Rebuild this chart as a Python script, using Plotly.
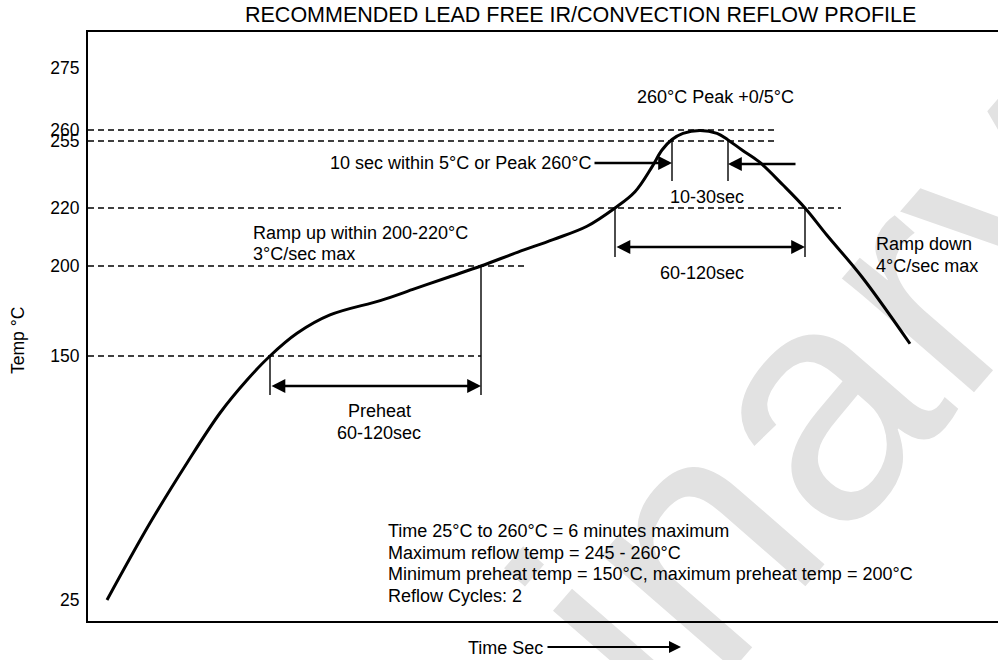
import numpy as np
import plotly.graph_objects as go

# ---------------- data ----------------
# schematic (non-linear) temperature scale of the source drawing: degC -> axis position
scale_temp = [25, 150, 200, 220, 255, 260, 275]
scale_pos = [21, 265, 355, 413, 480, 491, 553]
tick_temps = [25, 150, 200, 220, 255, 260, 275]
tick_labels = ["25", "150", "200", "220", "255", "260", "275"]

# reflow profile (schematic time units, degC)
curve_time = [19, 62, 99, 132, 159, 182, 209, 242, 293, 327, 361, 393, 430, 465, 499, 527,
              547, 564, 574, 584, 595, 612, 629, 640, 654, 671, 695, 717, 739, 774, 822]
curve_temp = [25, 64.4, 95.2, 120.8, 137.7, 150, 162.6, 172.8, 180.9, 187.4, 193.9, 200,
              204.8, 209.1, 213.7, 220, 228.5, 241.5, 250.3, 255.7, 258.5, 259.8, 258.5, 255.5,
              250.3, 244.2, 232.0, 220, 210.6, 193.9, 156.8]

# dashed reference levels and how far (in time) each runs
level_temp = [260, 255, 220, 200, 150]
level_end_time = [686, 686, 753, 440, 393]

# windows: start / end time and temperature where each marker starts
preheat_time = [182, 393]
preheat_temp = [150, 200]
tal_time = [527, 717]
tal_temp = [220, 220]
peak_time = [584, 640]
peak_temp = [255, 255]


def to_u(t):
    return np.interp(t, scale_temp, scale_pos)


# ---------------- layout constants ----------------
W, H = 998, 660
L, R, T, B = 88, 0, 32, 39
PW, PH = W - L - R, H - T - B
FONT = "Arial, Liberation Sans, sans-serif"


def px(x):  # pixel x -> data x
    return x - L


def py(y):  # pixel y -> data y
    return (H - B) - y


def ppx(x):
    return (x - L) / PW


def ppy(y):
    return ((H - B) - y) / PH


fig = go.Figure()

# watermark (below everything)
WX, WY = 489, 730
fig.add_shape(type="rect", xref="paper", yref="paper",
              x0=ppx(WX - 10), x1=ppx(WX + 10), y0=ppy(WY + 10), y1=ppy(WY - 10),
              line_width=0, fillcolor="rgba(0,0,0,0)", layer="below",
              label=dict(text="Preliminary", textangle=-49, textposition="middle center",
                         font=dict(size=330, color="#e2e2e2", family=FONT)))

# dashed levels
for lt, le in zip(level_temp, level_end_time):
    fig.add_trace(go.Scatter(x=[0, le], y=[to_u(lt)] * 2, mode="lines",
                             line=dict(color="black", width=1.4, dash="6px,4px"),
                             hoverinfo="skip", showlegend=False))

# window marker verticals
marker_bottom = {"pre": 226, "tal": 364, "peak": 440}
for key, tt, tp in (("pre", preheat_time, preheat_temp), ("tal", tal_time, tal_temp),
                    ("peak", peak_time, peak_temp)):
    for t0, tmp in zip(tt, tp):
        fig.add_trace(go.Scatter(x=[t0, t0], y=[to_u(tmp), marker_bottom[key]], mode="lines",
                                 line=dict(color="black", width=1.4),
                                 hoverinfo="skip", showlegend=False))

# profile curve
fig.add_trace(go.Scatter(x=curve_time, y=to_u(curve_temp), mode="lines",
                         line=dict(color="black", width=3, shape="spline", smoothing=1.0),
                         hoverinfo="skip", showlegend=False))

ann = []
AW = 2.3
AS = 1.2


def arrow(x0, x1, y, both=False):
    ann.append(dict(x=x1, y=y, ax=x0, ay=y, xref="x", yref="y", axref="x", ayref="y",
                    text="", showarrow=True, arrowhead=2, arrowsize=AS, arrowwidth=AW,
                    arrowside="end+start" if both else "end", arrowcolor="black",
                    startarrowhead=2, startarrowsize=AS))


arrow(preheat_time[0], preheat_time[1], py(386), both=True)
arrow(tal_time[0], tal_time[1], py(247), both=True)
arrow(px(593), peak_time[0], py(163))
arrow(px(797), peak_time[1], py(164))


def text(s, x, y, anchor="left", size=18):
    ann.append(dict(x=x, y=y, xref="paper", yref="paper", text=s, showarrow=False,
                    xanchor=anchor, yanchor="middle",
                    font=dict(family=FONT, size=size, color="black")))


text("260°C Peak +0/5°C", ppx(715), ppy(97), "center")
text("10 sec within 5°C or Peak 260°C", ppx(594), ppy(163), "right")
text("10-30sec", ppx(707), ppy(197), "center")
text("60-120sec", ppx(702), ppy(273), "center")
text("Ramp up within 200-220°C", ppx(251), ppy(233))
text("3°C/sec max", ppx(251), ppy(254))
text("Ramp down", ppx(874), ppy(244))
text("4°C/sec max", ppx(874), ppy(266))
text("Preheat", ppx(379), ppy(411), "center")
text("60-120sec", ppx(379), ppy(433), "center")
body = ["Time 25°C to 260°C = 6 minutes maximum",
        "Maximum reflow temp = 245 - 260°C",
        "Minimum preheat temp = 150°C, maximum preheat temp = 200°C",
        "Reflow Cycles: 2"]
for i, line in enumerate(body):
    text(line, ppx(386), ppy([531, 553, 574, 596][i]))
text("Time Sec", ppx(545), ppy(648), "right")
text("RECOMMENDED LEAD FREE IR/CONVECTION REFLOW PROFILE", ppx(580), ppy(15), "center", 21.5)
ann.append(dict(x=ppx(18), y=ppy(341), xref="paper", yref="paper", text="Temp °C",
                showarrow=False, textangle=-90, xanchor="center", yanchor="middle",
                font=dict(family=FONT, size=17.5, color="black")))
# time arrow
ann.append(dict(x=px(681), y=ppy(647), xref="x", yref="paper", ax=-135, ay=0,
                text="", showarrow=True, arrowhead=2, arrowsize=AS, arrowwidth=2,
                arrowcolor="black"))

fig.update_layout(
    width=W, height=H, margin=dict(l=L, r=R, t=T, b=B),
    paper_bgcolor="white", plot_bgcolor="rgba(0,0,0,0)",
    annotations=ann, showlegend=False,
    xaxis=dict(range=[0, PW], showgrid=False, zeroline=False, showticklabels=False,
               ticks="", showline=True, linecolor="black", linewidth=2, mirror=True,
               fixedrange=True),
    yaxis=dict(range=[0, PH], showgrid=False, zeroline=False, tickmode="array",
               tickvals=list(to_u(tick_temps)), ticktext=tick_labels, ticks="",
               ticklabelstandoff=3,
               tickfont=dict(family=FONT, size=17.5, color="black"),
               showline=True, linecolor="black", linewidth=2, mirror=False,
               fixedrange=True),
)

fig.write_html("out.html", config={"displayModeBar": False},
               post_script="document.body.style.margin='0';")
